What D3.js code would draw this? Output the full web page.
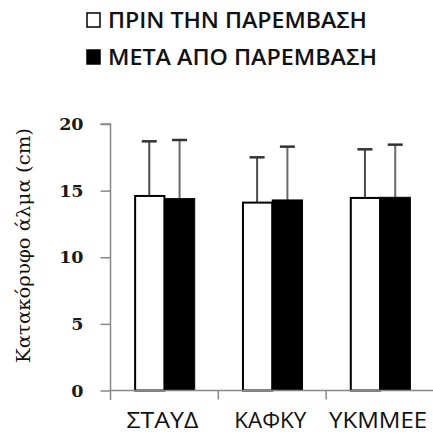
<!DOCTYPE html>
<html><head><meta charset="utf-8">
<script src="https://cdn.jsdelivr.net/npm/d3@7"></script>
<style>html,body{margin:0;padding:0;background:#fff;}</style>
</head><body>
<script>
const categories = ["ΣΤΑΥΔ", "ΚΑΦΚΥ", "ΥΚΜΜΕΕ"];
const seriesNames = ["ΠΡΙΝ ΤΗΝ ΠΑΡΕΜΒΑΣΗ", "ΜΕΤΑ ΑΠΟ ΠΑΡΕΜΒΑΣΗ"];
const beforeValues = [14.6, 14.1, 14.45];
const afterValues = [14.4, 14.3, 14.5];
const beforeErrors = [4.1, 3.4, 3.65];
const afterErrors = [4.4, 4.0, 3.95];
const yTicks = [0, 5, 10, 15, 20];
const yTitle = "Κατακόρυφο άλμα (cm)";

const W = 433, H = 445;
const svg = d3.select("body").append("svg").attr("width", W).attr("height", H);
const axisColor = "#888";

const x0 = d3.scaleBand().domain(categories).range([110.5, 434]).paddingInner(0).paddingOuter(0);
const x1 = d3.scaleBand().domain([0, 1]).range([0, x0.bandwidth()]).paddingInner(0).paddingOuter(0.78);
const y = d3.scaleLinear().domain([0, 20]).range([390.5, 124]);

const data = categories.map((c, i) => ({
  cat: c,
  vals: [
    {s: 0, v: beforeValues[i], e: beforeErrors[i]},
    {s: 1, v: afterValues[i], e: afterErrors[i]}
  ]
}));

// error bars (drawn first, behind bars)
const g = svg.append("g");
data.forEach(d => {
  d.vals.forEach(v => {
    const cx = x0(d.cat) + x1(v.s) + x1.bandwidth() / 2;
    g.append("line").attr("x1", cx).attr("x2", cx)
      .attr("y1", y(v.v)).attr("y2", y(v.v + v.e))
      .attr("stroke", v.s === 0 ? "#4a4a4a" : "#6a6a6a").attr("stroke-width", 2);
    g.append("line").attr("x1", cx - 7.5).attr("x2", cx + 7.5)
      .attr("y1", y(v.v + v.e)).attr("y2", y(v.v + v.e))
      .attr("stroke", "#333").attr("stroke-width", 2.5);
  });
});

// bars
data.forEach(d => {
  d.vals.forEach(v => {
    const bx = x0(d.cat) + x1(v.s);
    svg.append("rect")
      .attr("x", bx + (v.s === 0 ? 1 : 0))
      .attr("y", y(v.v))
      .attr("width", x1.bandwidth() - (v.s === 0 ? 1 : 0))
      .attr("height", y(0) - y(v.v))
      .attr("fill", v.s === 0 ? "#fff" : "#000")
      .attr("stroke", "#000")
      .attr("stroke-width", v.s === 0 ? 2 : 1);
  });
});

// y axis
const yAxis = d3.axisLeft(y).tickValues(yTicks).tickSize(10).tickPadding(17).tickFormat(d3.format("d"));
const ya = svg.append("g").attr("transform", "translate(110.5,0)").call(yAxis);
ya.select(".domain").attr("stroke", axisColor).attr("stroke-width", 1.5).attr("d", "M-10,124H0V400");
ya.selectAll(".tick line").attr("stroke", axisColor).attr("stroke-width", 1.5);
ya.selectAll(".tick text").attr("font-family", "'DejaVu Serif', serif").attr("font-weight", "bold")
  .attr("font-size", 17.5).attr("fill", "#1a1a1a");

// x axis line + boundary ticks
svg.append("line").attr("x1", 110.5).attr("x2", 433).attr("y1", y(0)).attr("y2", y(0))
  .attr("stroke", axisColor).attr("stroke-width", 1.5);
categories.slice(1).forEach(c => {
  svg.append("line").attr("x1", x0(c)).attr("x2", x0(c)).attr("y1", y(0)).attr("y2", y(0) + 9)
    .attr("stroke", axisColor).attr("stroke-width", 1.5);
});

// x labels
const labelWidths = [72, 72, 98];
categories.forEach((c, i) => {
  svg.append("text").attr("x", x0(c) + x0.bandwidth() / 2 - 2).attr("y", 428)
    .attr("text-anchor", "middle").attr("font-family", "'Open Sans', sans-serif")
    .attr("font-size", 21).attr("fill", "#111")
    .attr("textLength", labelWidths[i]).attr("lengthAdjust", "spacingAndGlyphs")
    .text(c);
});

// y title
svg.append("text").attr("transform", "translate(30,245.5) rotate(-90)")
  .attr("text-anchor", "middle").attr("font-family", "'DejaVu Serif', serif")
  .attr("font-size", 19).attr("fill", "#111")
  .attr("textLength", 235).attr("lengthAdjust", "spacingAndGlyphs")
  .text(yTitle);

// legend
const legendWidths = [259, 269];
seriesNames.forEach((s, i) => {
  const ly = 13 + i * 37;
  svg.append("rect").attr("x", 87).attr("y", ly).attr("width", 13).attr("height", 14)
    .attr("fill", i === 0 ? "#fff" : "#000").attr("stroke", "#000").attr("stroke-width", 1.5);
  svg.append("text").attr("x", 108).attr("y", ly + 15)
    .attr("font-family", "'Open Sans', sans-serif").attr("font-weight", 600)
    .attr("font-size", 21.5).attr("fill", "#111")
    .attr("textLength", legendWidths[i]).attr("lengthAdjust", "spacingAndGlyphs")
    .text(s);
});
</script>
</body></html>
